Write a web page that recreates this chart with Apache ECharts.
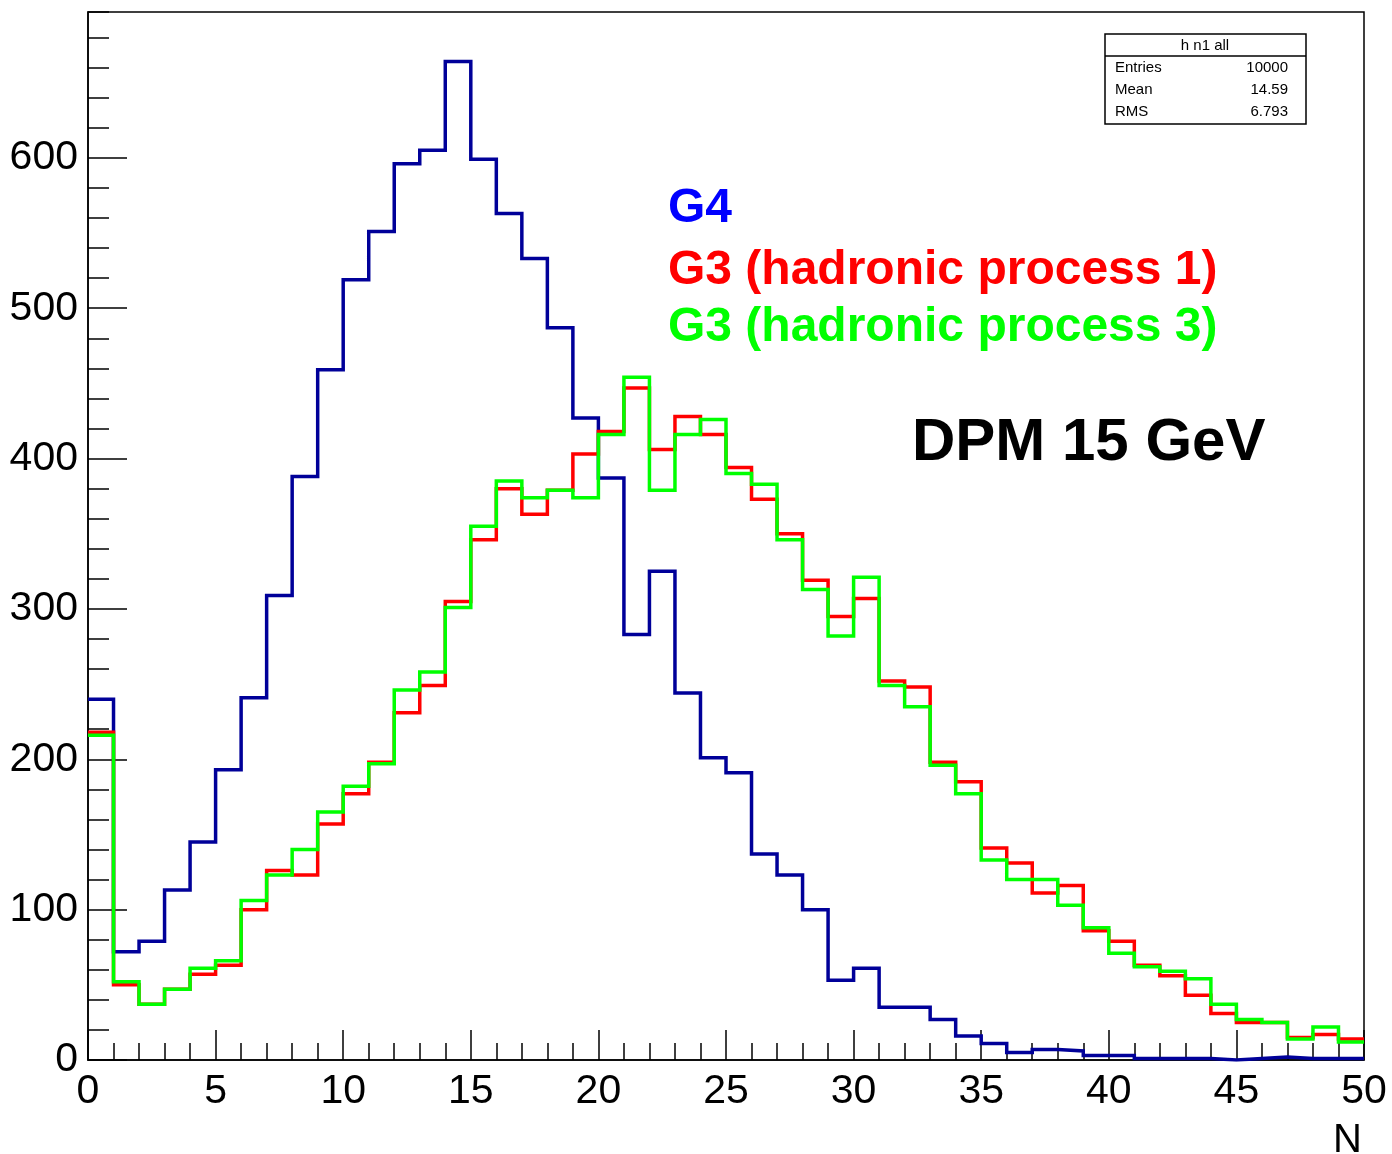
<!DOCTYPE html>
<html>
<head>
<meta charset="utf-8">
<script src="https://cdn.jsdelivr.net/npm/echarts@6/dist/echarts.min.js"></script>
<style>
html,body{margin:0;padding:0;background:#fff;}
#chart{width:1392px;height:1154px;}
</style>
</head>
<body>
<div id="chart"></div>
<script>
// Bin edges (N), 50 bins of width 1
const binEdges = [0,1,2,3,4,5,6,7,8,9,10,11,12,13,14,15,16,17,18,19,20,21,22,23,24,25,26,27,28,29,30,31,32,33,34,35,36,37,38,39,40,41,42,43,44,45,46,47,48,49,50];

// G4 (blue)
const g4 = [240,72,79,113,145,193,241,309,388,459,519,551,596,605,664,599,563,533,487,427,387,283,325,244,201,191,137,123,100,53,61,35,35,27,16,11,5,7,6,3,3,1,1,1,0,1,2,1,1,1];
// G3 hadronic process 1 (red)
const g3p1 = [218,50,37,47,57,63,100,126,123,157,177,198,231,249,305,346,380,363,379,403,418,447,406,428,416,394,373,350,319,295,307,252,248,198,185,141,131,111,116,86,79,63,56,43,31,25,25,15,17,14];
// G3 hadronic process 3 (green)
const g3p3 = [216,52,37,47,61,66,106,123,140,165,182,197,246,258,301,355,385,374,379,374,416,454,379,416,426,390,383,346,313,282,321,249,235,196,177,133,120,120,103,88,71,62,59,54,37,27,25,14,22,12];

const legendLabels = ['G4', 'G3 (hadronic process 1)', 'G3 (hadronic process 3)'];
const statTitle = 'h n1 all';
const statNames = ['Entries', 'Mean', 'RMS'];
const statValues = ['10000', '14.59', '6.793'];

const FONT = 'Liberation Sans, Arial, Helvetica, sans-serif';

function stepData(vals) {
  return binEdges.map((x, i) => [x, vals[Math.min(i, vals.length - 1)]]);
}

const chart = echarts.init(document.getElementById('chart'));

function histSeries(name, vals, color) {
  return {
    name: name, type: 'line', step: 'end', data: stepData(vals),
    symbol: 'none', showSymbol: false, animation: false,
    lineStyle: { color: color, width: 3.5, join: 'miter', cap: 'butt' },
    itemStyle: { color: color }
  };
}

const tickStyle = { color: '#000', width: 1.5 };

const option = {
  backgroundColor: '#fff',
  animation: false,
  grid: { left: 88, right: 28, top: 12, bottom: 94, show: true, borderColor: '#000', borderWidth: 1.5, backgroundColor: 'transparent', outerBoundsMode: 'none' },
  xAxis: {
    type: 'value', min: 0, max: 50, interval: 5,
    axisLine: { show: true, onZero: false, lineStyle: tickStyle },
    axisTick: { show: true, inside: true, length: 30, lineStyle: tickStyle },
    minorTick: { show: true, splitNumber: 5, length: 17, lineStyle: tickStyle },
    axisLabel: { fontSize: 41, color: '#000', fontFamily: FONT, margin: 11, hideOverlap: false },
    splitLine: { show: false }
  },
  yAxis: [
    {
      type: 'value', min: 0, max: 697, interval: 100, position: 'left',
      axisLine: { show: true, lineStyle: tickStyle },
      axisTick: { show: true, inside: true, length: 39, lineStyle: tickStyle },
      axisLabel: { fontSize: 41, color: '#000', fontFamily: FONT, margin: 10, showMaxLabel: false, hideOverlap: false },
      splitLine: { show: false }
    },
    {
      type: 'value', min: 0, max: 697, interval: 20, position: 'left', offset: 0,
      axisLine: { show: false },
      axisTick: { show: true, inside: true, length: 21, lineStyle: tickStyle },
      axisLabel: { show: false },
      splitLine: { show: false }
    }
  ],
  series: [
    histSeries(legendLabels[0], g4, '#000099'),
    histSeries(legendLabels[1], g3p1, '#ff0000'),
    histSeries(legendLabels[2], g3p3, '#00ff00')
  ],
  graphic: [
    { type: 'text', left: 668, top: 185, style: { text: legendLabels[0], fill: '#0000ff', font: 'bold 48px ' + FONT } },
    { type: 'text', left: 668, top: 247, style: { text: legendLabels[1], fill: '#ff0000', font: 'bold 48px ' + FONT } },
    { type: 'text', left: 668, top: 304, style: { text: legendLabels[2], fill: '#00ff00', font: 'bold 48px ' + FONT } },
    { type: 'text', left: 912, top: 413, style: { text: 'DPM 15 GeV', fill: '#000', font: 'bold 60px ' + FONT } },
    { type: 'text', right: 30, top: 1121, style: { text: 'N', fill: '#000', font: '40px ' + FONT } },
    { type: 'rect', shape: { x: 1105, y: 34, width: 201, height: 90 }, style: { fill: '#fff', stroke: '#000', lineWidth: 1.5 } },
    { type: 'line', shape: { x1: 1105, y1: 56, x2: 1306, y2: 56 }, style: { stroke: '#000', lineWidth: 1.5 } },
    { type: 'text', x: 1205, y: 46, style: { text: statTitle, fill: '#000', font: '15px ' + FONT, textAlign: 'center', textVerticalAlign: 'middle' } },
    { type: 'text', x: 1115, y: 68, style: { text: statNames[0], fill: '#000', font: '15px ' + FONT, textAlign: 'left', textVerticalAlign: 'middle' } },
    { type: 'text', x: 1115, y: 90, style: { text: statNames[1], fill: '#000', font: '15px ' + FONT, textAlign: 'left', textVerticalAlign: 'middle' } },
    { type: 'text', x: 1115, y: 112, style: { text: statNames[2], fill: '#000', font: '15px ' + FONT, textAlign: 'left', textVerticalAlign: 'middle' } },
    { type: 'text', x: 1288, y: 68, style: { text: statValues[0], fill: '#000', font: '15px ' + FONT, textAlign: 'right', textVerticalAlign: 'middle' } },
    { type: 'text', x: 1288, y: 90, style: { text: statValues[1], fill: '#000', font: '15px ' + FONT, textAlign: 'right', textVerticalAlign: 'middle' } },
    { type: 'text', x: 1288, y: 112, style: { text: statValues[2], fill: '#000', font: '15px ' + FONT, textAlign: 'right', textVerticalAlign: 'middle' } }
  ]
};
chart.setOption(option);
</script>
</body>
</html>
